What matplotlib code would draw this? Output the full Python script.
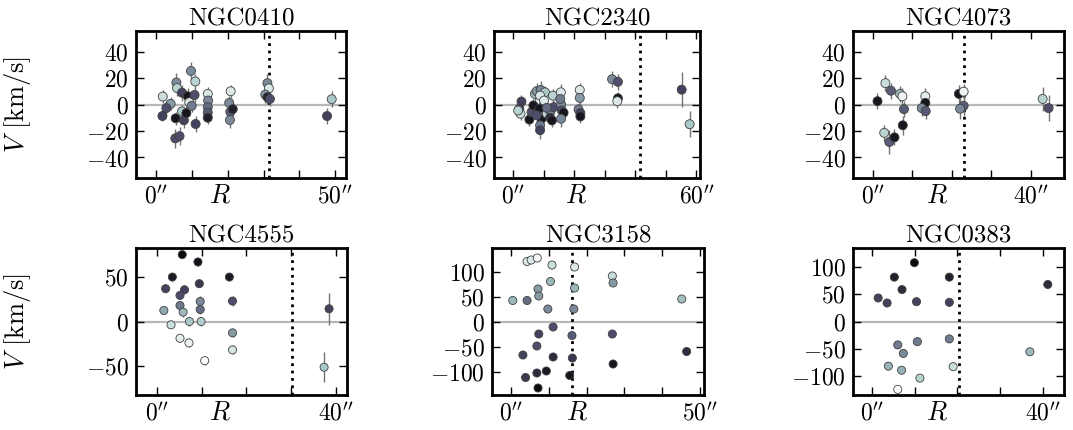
import numpy as np
import matplotlib
matplotlib.use("Agg")
from matplotlib import pyplot as plt

plt.rcParams['font.family'] = 'serif'
plt.rcParams['font.serif'] = ['cmr10']
plt.rcParams['mathtext.fontset'] = 'cm'
plt.rcParams['axes.formatter.use_mathtext'] = True

# ---- data ----
names = ["NGC0410", "NGC2340", "NGC4073", "NGC4555", "NGC3158", "NGC0383"]

r_0410 = [1.8, 4.0, 2.8, 1.7, 5.6, 5.8, 7.2, 5.4, 5.3, 6.5, 7.2, 7.7, 8.4, 8.8, 9.2, 9.9, 9.7, 10.9, 10.7, 11.0,
          14.4, 14.5, 14.4, 14.4, 14.4, 20.8, 20.4, 20.7, 21.4, 20.6, 31.1, 31.5, 30.5, 31.1, 31.8, 47.8, 49.1]
v_0410 = [6.0, 0.5, -2.7, -8.7, 16.6, 12.4, 8.9, -10.4, -25.6, -23.9, -5.2, -11.9, -6.5, 6.2, 1.7, -1.0, 25.3, 17.4, 7.2, -14.7,
          8.0, 3.0, -2.0, -6.2, -10.0, 10.0, 1.2, -5.5, -3.5, -11.7, 16.1, 12.2, 7.5, 5.5, 4.2, -8.7, 4.0]
e_0410 = [5, 5, 5, 4, 7, 6, 6, 5, 7, 7, 5, 6, 5, 6, 5, 5, 7, 6, 5, 6,
          5, 5, 5, 5, 5, 5, 5, 5, 5, 6, 7, 6, 6, 5, 5, 6, 6]
c_0410 = [0.85, 0.6, 0.35, 0.3, 0.55, 0.8, 0.3, 0.1, 0.35, 0.35, 0.75, 0.3, 0.1, 0.1, 0.9, 0.5, 0.55, 0.8, 0.35, 0.3,
          0.88, 0.55, 0.45, 0.4, 0.15, 0.9, 0.55, 0.4, 0.15, 0.55, 0.55, 0.9, 0.6, 0.15, 0.35, 0.3, 0.75]

r_2340 = [2.7, 2.0, 2.4, 1.6, 5.3, 6.0, 6.6, 7.1, 7.7, 9.0, 10.4, 8.8, 8.6, 9.3, 8.8, 8.8, 10.1, 7.7, 11.0, 12.1,
          12.1, 12.7, 13.0, 13.2, 11.0, 15.6, 15.7, 15.9, 16.5, 15.7, 15.4, 21.8, 21.8, 21.4, 22.0, 22.0,
          32.4, 34.3, 34.3, 34.1, 55.2, 57.8]
v_2340 = [2.2, -3.2, -7.0, -4.5, -11.4, -5.7, -0.7, 8.0, 10.0, 11.0, 9.2, 6.7, -3.2, -10.7, -15.7, -19.4, 3.0, -8.2, -7.0, -4.5,
          -10.0, -12.0, 6.7, -2.0, -2.5, 9.2, 0.0, -4.5, -6.2, -10.7, 4.2, 11.0, 5.0, -3.7, -6.5, -9.0,
          19.1, 17.1, 4.7, 2.5, 11.2, -14.9]
e_2340 = [5, 5, 5, 5, 5, 5, 5, 6, 6, 7, 5, 5, 5, 6, 6, 7, 5, 5, 5, 5,
          5, 5, 5, 5, 5, 6, 5, 5, 5, 6, 5, 5, 5, 5, 5, 5,
          6, 6, 5, 5, 13, 10]
c_2340 = [0.3, 0.3, 0.85, 0.8, 0.1, 0.35, 0.1, 0.7, 0.6, 0.55, 0.75, 0.9, 0.1, 0.1, 0.5, 0.3, 0.9, 0.35, 0.8, 0.55,
          0.2, 0.1, 0.8, 0.35, 0.45, 0.9, 0.55, 0.35, 0.1, 0.55, 0.5, 0.9, 0.6, 0.5, 0.3, 0.1,
          0.55, 0.35, 0.1, 0.9, 0.3, 0.75]

r_4073 = [1.2, 3.2, 4.6, 6.9, 7.5, 7.9, 2.9, 4.2, 5.5, 7.6, 13.3, 13.3, 12.4, 13.4, 21.8, 23.0, 23.0, 22.1, 43.0, 44.5]
v_4073 = [2.5, 16.1, 10.4, 8.0, 6.2, -3.5, -21.4, -28.3, -24.8, -15.7, 6.2, 1.2, -2.7, -5.0, 8.0, 9.7, -1.0, -3.2, 4.2, -2.7]
e_4073 = [6, 6, 6, 6, 6, 6, 6, 9, 6, 7, 6, 6, 6, 6, 7, 6, 8, 8, 9, 10]
c_4073 = [0.1, 0.85, 0.4, 0.7, 0.95, 0.4, 0.8, 0.4, 0.1, 0.1, 0.92, 0.1, 0.55, 0.4, 0.1, 0.95, 0.4, 0.55, 0.8, 0.35]

r_4555 = [5.7, 9.2, 3.5, 16.2, 2.0, 6.2, 5.2, 9.5, 16.9, 5.2, 9.7, 9.7, 1.6, 5.9, 7.3, 9.9, 3.2, 5.2, 7.2, 10.7,
          16.9, 16.9, 38.4, 37.3]
v_4555 = [74.6, 66.4, 49.6, 49.6, 36.6, 35.4, 29.1, 42.2, 22.8, 17.9, 22.4, 13.4, 12.3, 10.4, 0.0, 0.0, -3.7, -18.7, -23.9, -43.7,
          -12.7, -31.7, 14.2, -51.0]
e_4555 = [3, 5, 4, 4, 3, 5, 4, 4, 6, 4, 6, 5, 3, 5, 5, 5, 3, 4, 5, 5,
          5, 5, 18, 17]
c_4555 = [0.05, 0.08, 0.12, 0.12, 0.3, 0.3, 0.35, 0.25, 0.35, 0.5, 0.55, 0.45, 0.65, 0.7, 0.75, 0.78, 0.85, 0.92, 0.95, 1.0,
          0.6, 0.88, 0.3, 0.75]

r_3158 = [4.2, 5.3, 6.9, 10.8, 16.8, 26.8, 27.0, 10.4, 7.1, 7.3, 0.4, 4.2, 9.7, 16.8, 16.6, 45.2,
          11.1, 7.3, 6.8, 3.1, 11.1, 16.1, 16.2, 26.8, 27.0, 46.5, 3.8, 6.8, 9.3, 7.1, 15.5]
v_3158 = [120, 123, 127, 113, 109, 91, 77, 80, 65, 51, 42, 42, 25, 67, 25, 45,
          -11, -25, -49, -67, -71, -28, -73, -25, -85, -60, -112, -103, -99, -133, -108]
e_3158 = [4] * 31
c_3158 = [0.9, 0.9, 0.98, 0.85, 0.9, 0.85, 0.6, 0.7, 0.6, 0.6, 0.7, 0.45, 0.55, 0.7, 0.55, 0.72,
          0.35, 0.3, 0.35, 0.3, 0.2, 0.4, 0.25, 0.35, 0.1, 0.2, 0.25, 0.2, 0.12, 0.05, 0.1]

r_0383 = [9.9, 5.2, 18.1, 7.0, 1.4, 3.5, 10.4, 18.1, 41.2, 10.6, 18.1, 6.0, 7.3, 3.8, 6.9, 11.2, 19.0, 6.0, 37.0]
v_0383 = [108, 81.5, 81.5, 58.6, 43.2, 34.0, 36.4, 35.2, 68.0, -37, -32, -43, -58.6, -82, -89.5, -104, -83, -124.7, -55.6]
e_0383 = [4] * 19
c_0383 = [0.05, 0.15, 0.15, 0.2, 0.3, 0.3, 0.3, 0.3, 0.2, 0.5, 0.5, 0.5, 0.55, 0.68, 0.68, 0.8, 0.85, 1.0, 0.7]

r_eff = [31.6, 41.5, 23.0, 30.2, 16.1, 20.3]

# ---- layout ----
fig = plt.figure(figsize=(10.73, 4.30), dpi=100)
W, H = 1073.0, 430.0
boxes = [(136, 31, 210, 147), (494, 31, 206, 147), (853, 31, 211, 147),
         (136, 248, 211, 147), (492, 248, 212, 147), (853, 248, 211, 147)]
xlims = [(-5.7, 53.1), (-6.3, 61.2), (-5.0, 48.4), (-4.6, 42.4), (-5.1, 51.1), (-4.5, 45.0)]
xmax_tick = [50, 60, 40, 40, 50, 40]
ylims = [(-55.5, 55.5), (-55.5, 55.5), (-55.5, 55.5), (-82, 82), (-147, 147), (-135, 135)]
yticks = [[-40, -20, 0, 20, 40]] * 3 + [[-50, 0, 50], [-100, -50, 0, 50, 100], [-100, -50, 0, 50, 100]]

rs = [r_0410, r_2340, r_4073, r_4555, r_3158, r_0383]
vs = [v_0410, v_2340, v_4073, v_4555, v_3158, v_0383]
es = [e_0410, e_2340, e_4073, e_4555, e_3158, e_0383]
cs = [c_0410, c_2340, c_4073, c_4555, c_3158, c_0383]

for i in range(6):
    x0, y0, w, h = boxes[i]
    ax = fig.add_axes([x0 / W, 1 - (y0 + h) / H, w / W, h / H])
    ax.axhline(0, color='0.72', lw=1.6, zorder=1)
    ax.axvline(r_eff[i], color='k', ls=':', lw=2, zorder=2)
    ax.errorbar(rs[i], vs[i], yerr=es[i], fmt='none', ecolor='0.45', elinewidth=1, zorder=2)
    ms = 42 if i < 3 else 34
    ax.scatter(rs[i], vs[i], c=cs[i], cmap='bone', vmin=0, vmax=1, s=ms,
               edgecolors='0.25', linewidths=0.6, zorder=3)
    ax.set_xlim(xlims[i])
    ax.set_ylim(ylims[i])
    ticks = np.arange(0, xmax_tick[i] + 1, 10)
    ax.set_xticks(ticks)
    labels = [''] * len(ticks)
    labels[0] = r"$0''$"
    labels[-1] = r"$%d''$" % xmax_tick[i]
    ax.set_xticklabels(labels)
    ax.set_yticks(yticks[i])
    ax.tick_params(direction='in', top=True, right=True, length=6, width=1,
                   labelsize=17, pad=5)
    for sp in ax.spines.values():
        sp.set_linewidth(2)
    ax.set_title(names[i], fontsize=18, pad=4)
    ax.set_xlabel('$R$', fontsize=19)
    ax.xaxis.set_label_coords(0.4, -0.04)
    if i % 3 == 0:
        ax.set_ylabel('$V$ [km/s]', fontsize=19)
        ax.yaxis.set_label_coords(-0.49, 0.5)

fig.savefig('out.png', dpi=100)
